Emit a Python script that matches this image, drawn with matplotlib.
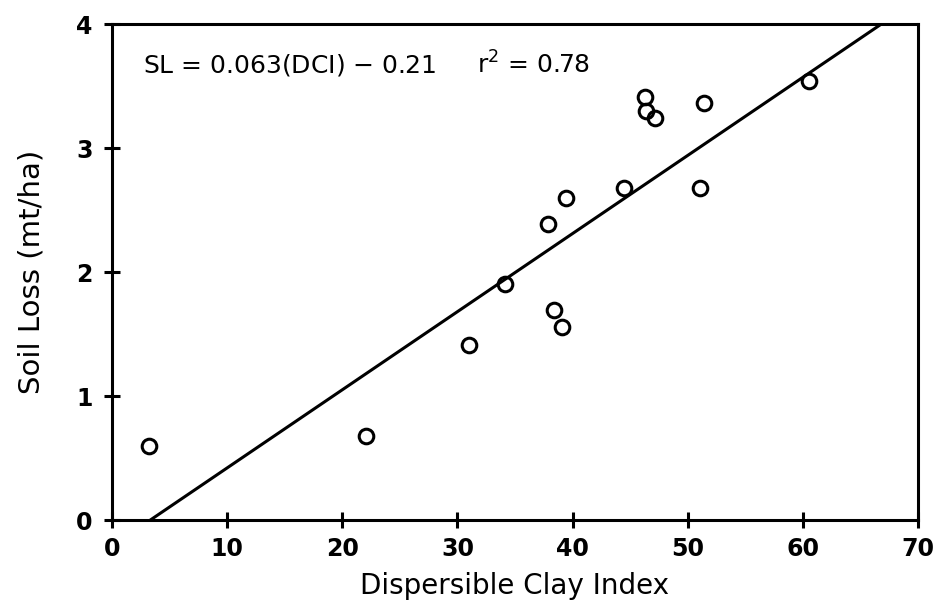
import matplotlib
matplotlib.use("Agg")
import matplotlib.pyplot as plt
import numpy as np

# dispersible clay index vs soil loss
dci = [3.2, 22.1, 31.0, 34.1, 37.9, 38.4, 39.1, 39.4, 44.5, 46.3, 46.4, 47.2, 51.4, 51.1, 60.5]
soil_loss = [0.60, 0.68, 1.41, 1.90, 2.39, 1.69, 1.56, 2.60, 2.68, 3.41, 3.30, 3.24, 3.36, 2.68, 3.54]

slope = 0.063
intercept = -0.21
xticks = [0, 10, 20, 30, 40, 50, 60, 70]
yticks = [0, 1, 2, 3, 4]

plt.rcParams['font.family'] = ['DejaVu Sans']

fig = plt.figure(figsize=(9.37, 6), dpi=100)
ax = fig.add_axes([0.1195, 0.1333, 0.8602, 0.8267])

xs = np.array([0, 70])
ax.plot(xs, slope * xs + intercept, color='black', lw=2.2)
ax.plot(dci, soil_loss, 'o', mfc='none', mec='black', mew=2.2, ms=10.5)

ax.set_xlim(0, 70)
ax.set_ylim(0, 4)
ax.set_xticks(xticks)
ax.set_yticks(yticks)
ax.tick_params(direction='inout', length=12, width=2.2, labelsize=17)
ax.tick_params(axis='x', pad=6)
ax.tick_params(axis='y', pad=8)
for lab in ax.get_xticklabels() + ax.get_yticklabels():
    lab.set_fontweight('bold')
for s in ax.spines.values():
    s.set_linewidth(2.2)

ax.set_xlabel('Dispersible Clay Index', fontsize=20, labelpad=8)
ax.set_ylabel('Soil Loss (mt/ha)', fontsize=21, labelpad=22)

ax.text(2.7, 3.67, r'SL = 0.063(DCI) $-$ 0.21', fontsize=18, va='center', ha='left')
ax.text(31.7, 3.67, r'r$^2$ = 0.78', fontsize=18, va='center', ha='left')

fig.savefig('out.png', dpi=100)
